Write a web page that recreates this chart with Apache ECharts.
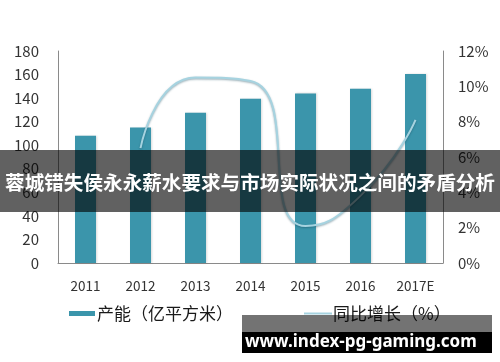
<!DOCTYPE html>
<html>
<head>
<meta charset="utf-8">
<script src="https://cdn.jsdelivr.net/npm/echarts@6/dist/echarts.min.js"></script>
<style>html,body{margin:0;padding:0;background:#fff}#c{width:500px;height:362px}</style>
</head>
<body>
<div id="c"></div>
<script>
const categories = ['2011', '2012', '2013', '2014', '2015', '2016', '2017E'];
const capacity = [108, 115, 127.5, 139.5, 144, 148, 160.5];
const growth = [null, 6.5, 10.5, 10.3, 2.1, 3.8, 8.1];
const leftTicks = { min: 0, max: 180, interval: 20 };
const rightTicks = { min: 0, max: 12, interval: 2 };
const barName = '产能（亿平方米）';
const lineName = '同比增长（%）';
const bannerText = '蓉城错失侯永永薪水要求与市场实际状况之间的矛盾分析';
const siteText = 'www.index-pg-gaming.com';

const font = '"Noto Sans CJK SC", "Noto Sans", sans-serif';
const chart = echarts.init(document.getElementById('c'), null, { renderer: 'canvas' });
chart.setOption({
  animation: false,
  backgroundColor: '#fff',
  grid: { left: 58, right: 57, top: 51, bottom: 99 },
  legend: [
    { data: [barName], left: 64, top: 300, icon: 'rect', itemWidth: 26, itemHeight: 5, itemGap: 4,
      textStyle: { fontSize: 17, color: '#1a1a1a', fontFamily: font, padding: [0, 0, 0, -3] } },
    { data: [{ name: lineName, itemStyle: { color: '#a6d3e0' } }], left: 299, top: 300, icon: 'rect', itemWidth: 28, itemHeight: 2,
      textStyle: { fontSize: 17, color: '#1a1a1a', fontFamily: font, padding: [0, 0, 0, -4] } }
  ],
  xAxis: {
    type: 'category', data: categories, boundaryGap: true,
    axisLine: { lineStyle: { color: '#8a8a8a', width: 1 } },
    axisTick: { show: false },
    axisLabel: { fontSize: 13.5, color: '#333', margin: 16, fontFamily: font }
  },
  yAxis: [
    { type: 'value', min: leftTicks.min, max: leftTicks.max, interval: leftTicks.interval,
      axisLine: { show: true, lineStyle: { color: '#8a8a8a' } }, axisTick: { show: false },
      splitLine: { show: false },
      axisLabel: { fontSize: 15, color: '#333', margin: 19, fontFamily: font } },
    { type: 'value', min: rightTicks.min, max: rightTicks.max, interval: rightTicks.interval,
      axisLine: { show: true, lineStyle: { color: '#8a8a8a' } }, axisTick: { show: false },
      splitLine: { show: false },
      axisLabel: { fontSize: 15, color: '#333', margin: 15, fontFamily: font, formatter: '{value}%' } }
  ],
  series: [
    { name: barName, type: 'bar', data: capacity, barWidth: 21, yAxisIndex: 0,
      itemStyle: { color: '#3b95ab', shadowColor: 'rgba(0,0,0,0.15)', shadowBlur: 2, shadowOffsetX: 1 } },
    { name: lineName, type: 'line', data: growth, yAxisIndex: 1, smooth: 0.6, symbol: 'none',
      connectNulls: false,
      lineStyle: { color: '#a6d3e0', width: 2, shadowColor: 'rgba(20,70,90,0.45)', shadowBlur: 2, shadowOffsetY: 1 } }
  ],
  graphic: [
    { type: 'rect', z: 100, shape: { x: 0, y: 150, width: 500, height: 62 }, style: { fill: 'rgba(0,0,0,0.62)' } },
    { type: 'text', z: 101, x: 250, y: 183, style: { text: bannerText, fill: '#fff', font: 'bold 19.6px ' + font, textAlign: 'center', textVerticalAlign: 'middle' } },
    { type: 'rect', z: 100, shape: { x: 242, y: 315, width: 250, height: 17 }, style: { fill: 'rgba(0,0,0,0.55)' } },
    { type: 'rect', z: 100, shape: { x: 242, y: 332, width: 250, height: 21 }, style: { fill: '#000' } },
    { type: 'text', z: 101, x: 245, y: 342, style: { text: siteText, fill: '#fff', font: 'bold 17px "Noto Sans", sans-serif', textAlign: 'left', textVerticalAlign: 'middle' } }
  ]
});
</script>
</body>
</html>
